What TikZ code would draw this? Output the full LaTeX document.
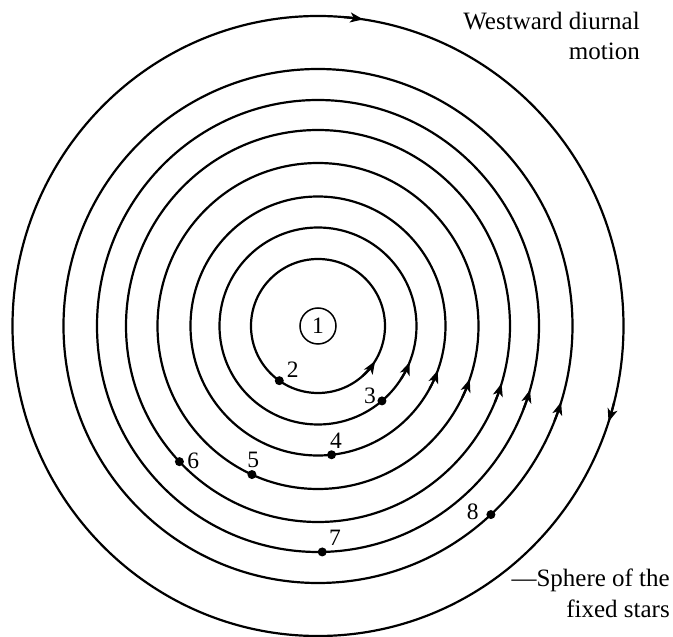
\documentclass[tikz,border=0pt]{standalone}
\usepackage{fontspec}
\setmainfont{Liberation Serif}
\usetikzlibrary{arrows.meta}
\begin{document}
\begin{tikzpicture}[x=1pt,y=1pt,
  orbit/.style={line width=2.2pt},
  tipline/.style={line width=2.2pt,-{Stealth[length=13pt,width=10pt,inset=3.5pt]}},
  planet/.style={circle,fill=black,inner sep=0pt,minimum size=9pt},
  num/.style={font=\fontsize{23.5}{26}\selectfont,inner sep=0pt},
  lbl/.style={font=\fontsize{25}{30}\selectfont,inner sep=0pt,anchor=base east}]
\useasboundingbox (-318,-311) rectangle (355,326);
\coordinate (O) at (0,0);
% orbits
\draw[orbit] (O) ellipse [x radius=67pt, y radius=67pt];
\draw[orbit] (O) ellipse [x radius=98.5pt, y radius=98.5pt];
\draw[orbit] (O) ellipse [x radius=127.5pt, y radius=129.5pt];
\draw[orbit] (O) ellipse [x radius=160.5pt, y radius=163pt];
\draw[orbit] (O) ellipse [x radius=192pt, y radius=196pt];
\draw[orbit] (O) ellipse [x radius=221pt, y radius=226pt];
\draw[orbit] (O) ellipse [x radius=254.5pt, y radius=257pt];
\draw[orbit] (O) ellipse [x radius=305.5pt, y radius=310pt];
% direction arrows
\draw[tipline] (O) ++(-48.5:67pt) arc[start angle=-48.5,end angle=-31.5,radius=67pt];
\draw[tipline] (O) ++(-33:98.5pt) arc[start angle=-33,end angle=-21.5,radius=98.5pt];
\draw[tipline] (O) ++(-29:127.5pt and 129.5pt) arc[start angle=-29,end angle=-20,x radius=127.5pt,y radius=129.5pt];
\draw[tipline] (O) ++(-26:160.5pt and 163pt) arc[start angle=-26,end angle=-19,x radius=160.5pt,y radius=163pt];
\draw[tipline] (O) ++(-23:192pt and 196pt) arc[start angle=-23,end angle=-17,x radius=192pt,y radius=196pt];
\draw[tipline] (O) ++(-21.6:221pt and 226pt) arc[start angle=-21.6,end angle=-16.4,x radius=221pt,y radius=226pt];
\draw[tipline] (O) ++(-21.7:254.5pt and 257pt) arc[start angle=-21.7,end angle=-17.2,x radius=254.5pt,y radius=257pt];
\draw[tipline] (O) ++(85.2:305.5pt and 310pt) arc[start angle=85.2,end angle=81.5,x radius=305.5pt,y radius=310pt];
\draw[tipline] (O) ++(-14.3:305.5pt and 310pt) arc[start angle=-14.3,end angle=-18,x radius=305.5pt,y radius=310pt];
% centre
\node[num,draw,circle,line width=1.5pt,minimum size=36pt,fill=white] (n1) at (O) {1};
% planets
\node[planet] (p2) at (-125.3:67pt) {};
\node[planet] (p3) at (-49.5:98.5pt) {};
\node[planet] (p4) at (-83.9:127.5pt and 129.5pt) {};
\node[planet] (p5) at (-114.3:160.5pt and 163pt) {};
\node[planet] (p6) at (-136.2:192pt and 196pt) {};
\node[planet] (p7) at (-88.9:221pt and 226pt) {};
\node[planet] (p8) at (-47.2:254.5pt and 257pt) {};
\node[num] (l2) at (-25.3,-44) {2};
\node[num] (l3) at (52,-69.7) {3};
\node[num] (l4) at (18,-114.7) {4};
\node[num] (l5) at (-64.7,-134) {5};
\node[num] (l6) at (-124.7,-134.7) {6};
\node[num] (l7) at (17,-212.3) {7};
\node[num] (l8) at (154.7,-185.7) {8};
% texts
\node[lbl] (t1) at (322,296) {Westward diurnal};
\node[lbl] (t2) at (322,266) {motion};
\node[lbl] (t3) at (352,-261) {---Sphere of the};
\node[lbl] (t4) at (352,-291) {fixed stars};
\end{tikzpicture}
\end{document}
